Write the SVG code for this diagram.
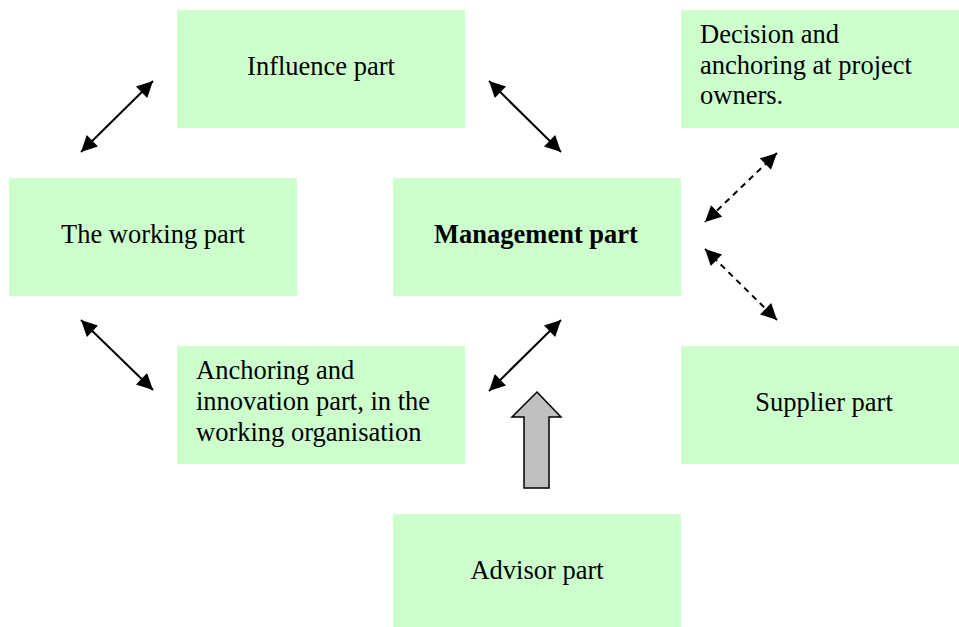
<svg xmlns="http://www.w3.org/2000/svg" width="959" height="627" viewBox="0 0 959 627">
  <style>
    .box { fill: #ccffcc; }
    .t { font-family: "Liberation Serif", "Times New Roman", serif; font-size: 26.5px; fill: #000; }
    .c { text-anchor: middle; }
    .b { font-weight: bold; }
    .link { stroke: #000; stroke-width: 2; fill: none; marker-start: url(#head); marker-end: url(#head); }
    .dash { stroke-dasharray: 6 5; }
  </style>
  <defs>
    <marker id="head" viewBox="0 0 10 10" refX="10" refY="5" markerWidth="9" markerHeight="8" markerUnits="strokeWidth" orient="auto-start-reverse">
      <path d="M0,0 L10,5 L0,10 z" fill="#000"/>
    </marker>
  </defs>

  <g id="influence">
    <rect class="box" x="177" y="10" width="288" height="118"/>
    <text class="t c" x="321" y="75">Influence part</text>
  </g>
  <g id="decision">
    <rect class="box" x="681" y="10" width="278" height="118"/>
    <text class="t" x="700" y="43">Decision and</text>
    <text class="t" x="700" y="74">anchoring at project</text>
    <text class="t" x="700" y="104">owners.</text>
  </g>
  <g id="working">
    <rect class="box" x="9" y="178" width="288" height="118"/>
    <text class="t c" x="153" y="243">The working part</text>
  </g>
  <g id="management">
    <rect class="box" x="393" y="178" width="288" height="118"/>
    <text class="t c b" x="536" y="243">Management part</text>
  </g>
  <g id="anchoring">
    <rect class="box" x="177" y="346" width="288" height="118"/>
    <text class="t" x="196" y="379">Anchoring and</text>
    <text class="t" x="196" y="410">innovation part, in the</text>
    <text class="t" x="196" y="441">working organisation</text>
  </g>
  <g id="supplier">
    <rect class="box" x="681" y="346" width="278" height="118"/>
    <text class="t c" x="824" y="411">Supplier part</text>
  </g>
  <g id="advisor">
    <rect class="box" x="393" y="514" width="288" height="113"/>
    <text class="t c" x="537" y="579">Advisor part</text>
  </g>

  <g id="connectors">
    <line class="link" x1="81" y1="152" x2="153" y2="81"/>
    <line class="link" x1="489" y1="81" x2="561" y2="152"/>
    <line class="link dash" x1="777" y1="153" x2="705" y2="222"/>
    <line class="link dash" x1="705" y1="249" x2="777" y2="320"/>
    <line class="link" x1="81" y1="320" x2="153" y2="390"/>
    <line class="link" x1="489" y1="391" x2="561" y2="320"/>
    <path d="M537,392 L561,417 L549,417 L549,488 L524,488 L524,417 L512,417 Z" fill="#c0c0c0" stroke="#000" stroke-width="1.5"/>
  </g>
</svg>
